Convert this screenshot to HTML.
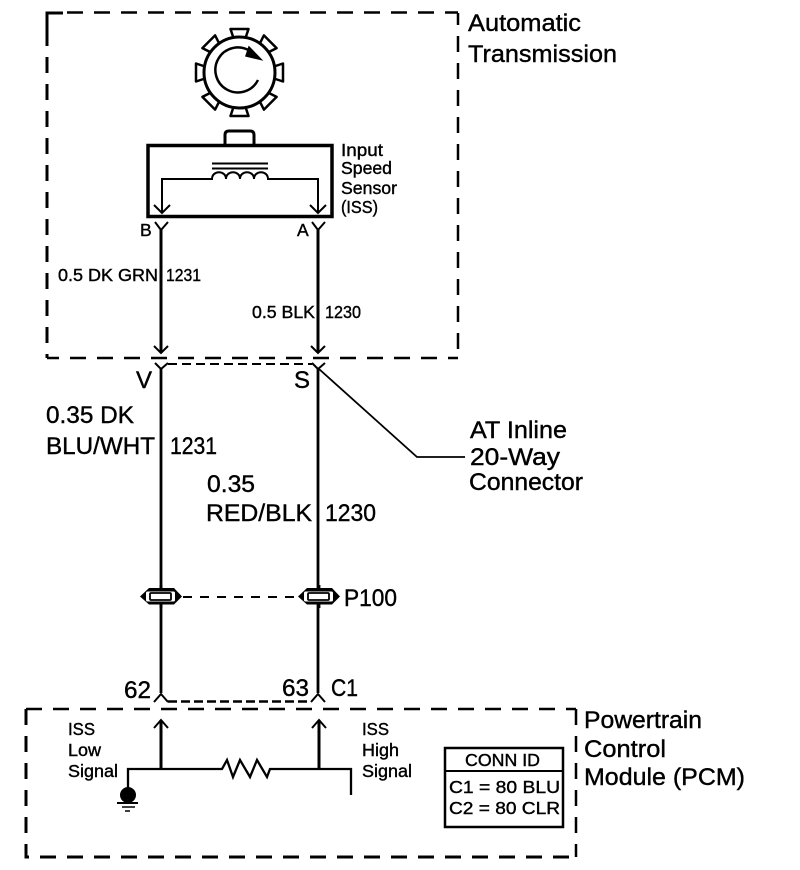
<!DOCTYPE html>
<html><head><meta charset="utf-8"><style>
html,body{margin:0;padding:0;background:#fff;width:800px;height:870px;overflow:hidden}
svg{display:block}
text{font-family:"Liberation Sans",sans-serif;fill:#000;stroke:#000;stroke-width:.4}
.l{font-size:24px}.s{font-size:17.5px}
</style></head><body>
<svg width="800" height="870" viewBox="0 0 800 870" xmlns="http://www.w3.org/2000/svg">
<rect width="800" height="870" fill="#fff"/>
<g fill="none" stroke="#000" stroke-width="2.5">
<!-- dashed module boxes -->
<path d="M47 30V13H63" stroke-width="3"/>
<path d="M67 12.500H458" stroke-dasharray="16 11"/>
<path d="M458 13V358" stroke-dasharray="16 11" stroke-dashoffset="4"/>
<path d="M47 30V358" stroke-dasharray="16 11" stroke-width="3"/>
<path d="M458 358H47" stroke-dasharray="16 11" stroke-dashoffset="6"/>
<path d="M26 709H576" stroke-dasharray="16 11"/>
<path d="M576 709V857" stroke-dasharray="16 11"/>
<path d="M26 709V857H576" stroke-dasharray="16 11" stroke-width="3"/>

<!-- gear -->
<g stroke-width="2.500" fill="#fff" stroke-linejoin="round">
<g id="t"><path d="M233.500 38L230.500 29H248.500L245.500 38"/></g>
<use href="#t" transform="rotate(45 239.500 72.500)"/>
<use href="#t" transform="rotate(90 239.500 72.500)"/>
<use href="#t" transform="rotate(135 239.500 72.500)"/>
<use href="#t" transform="rotate(180 239.500 72.500)"/>
<use href="#t" transform="rotate(225 239.500 72.500)"/>
<use href="#t" transform="rotate(270 239.500 72.500)"/>
<use href="#t" transform="rotate(315 239.500 72.500)"/>
</g>
<circle cx="239.500" cy="72.500" r="35.500" stroke-width="3" fill="#fff"/>
<path d="M258 80A22.500 22.500 0 1 1 250 51" stroke-width="2.500"/>
<path d="M249 47L261 59.500L246 56Z" fill="#000" stroke-width="1.500"/>

<!-- sensor -->
<path d="M225 145V135Q225 131 229 131H250Q254 131 254 135V145" stroke-width="3"/>
<rect x="148" y="145.500" width="184" height="71" stroke-width="3.500"/>
<path d="M212 163.500H268M212 168.500H268" stroke-width="2"/>
<path d="M162 212V179H212C212 170 226 170 226 179C226 170 240 170 240 179C240 170 254 170 254 179C254 170 268 170 268 179H318V212" stroke-width="2"/>
<path d="M154 205L162 213L170 205M310 205L318 213L326 205" stroke-width="2"/>

<!-- wires upper -->
<path d="M161 230V352M318 230V352" stroke-width="3"/>
<path d="M155 222L161 230L168 222M312 222L318 230L325 222" stroke-width="2"/>
<path d="M154 346L161 353L168 346M311 346L318 353L325 346" stroke-width="2"/>

<!-- wires lower -->
<path d="M161 368V693M318 368V693" stroke-width="2.800"/>
<path d="M155 363L161 369L168 363M312 363L318 369L325 363" stroke-width="2"/>
<path d="M168 364H312" stroke-width="2" stroke-dasharray="9 5"/>
<path d="M319 369L417 457H465" stroke-width="1.800"/>

<!-- P100 connectors -->
<path d="M183 597H302" stroke-width="2" stroke-dasharray="9 8"/>
<g id="p"><path d="M149 588H174L182 596.500L174 604.500H149L140 596.500Z" fill="#000" stroke="none"/>
<rect x="146" y="591.500" width="29" height="10" rx="1.500" fill="#fff" stroke="none"/>
<rect x="150" y="593" width="21" height="7" rx="1" fill="#fff" stroke="#000" stroke-width="1.800"/>
<path d="M161 585V590M161 603V608" stroke-width="2.800"/></g>
<use href="#p" transform="translate(158 0)"/>

<!-- PCM pins -->
<path d="M154 702L161 694L168 702M311 702L318 694L325 702" stroke-width="2"/>
<path d="M168 701.500H311" stroke-width="2.500" stroke-dasharray="9 4"/>
<path d="M161 720V768M319 720V768" stroke-width="3"/>
<path d="M154 728L161 720L168 728M312 728L319 720L326 728" stroke-width="2"/>

<!-- PCM circuit -->
<path d="M128 795V769H222L227 760L233 777L240 760L250 777L257 760L267 777L270 769H351V795" stroke-width="2.300"/>
<circle cx="128" cy="795" r="8" fill="#000" stroke="none"/>
<path d="M117 803H138" stroke-width="2"/><path d="M122 807H135" stroke-width="1.500"/><path d="M125 811H130" stroke-width="1.500"/>

<!-- CONN ID box -->
<rect x="445" y="748" width="118" height="79" stroke-width="2.500"/>
<path d="M445 771H563" stroke-width="2"/>
</g>

<g lengthAdjust="spacingAndGlyphs">
<text lengthAdjust="spacingAndGlyphs" class="l" x="468" y="31" textLength="113">Automatic</text>
<text lengthAdjust="spacingAndGlyphs" class="l" x="468" y="62" textLength="149">Transmission</text>
<text lengthAdjust="spacingAndGlyphs" class="s" x="341" y="156" textLength="42">Input</text>
<text lengthAdjust="spacingAndGlyphs" class="s" x="341" y="174" textLength="51">Speed</text>
<text lengthAdjust="spacingAndGlyphs" class="s" x="341" y="194" textLength="56">Sensor</text>
<text lengthAdjust="spacingAndGlyphs" class="s" x="341" y="213" textLength="37">(ISS)</text>
<text class="s" x="140" y="236">B</text>
<text class="s" x="297" y="236">A</text>
<text lengthAdjust="spacingAndGlyphs" class="s" x="58" y="281" textLength="100">0.5 DK GRN</text>
<text lengthAdjust="spacingAndGlyphs" class="s" x="166" y="281" textLength="35">1231</text>
<text lengthAdjust="spacingAndGlyphs" class="s" x="252" y="318" textLength="63">0.5 BLK</text>
<text lengthAdjust="spacingAndGlyphs" class="s" x="325" y="318" textLength="36">1230</text>
<text class="l" x="136" y="388">V</text>
<text class="l" x="294" y="388">S</text>
<text lengthAdjust="spacingAndGlyphs" class="l" x="46" y="423" textLength="88">0.35 DK</text>
<text lengthAdjust="spacingAndGlyphs" class="l" x="46" y="454" textLength="109">BLU/WHT</text>
<text lengthAdjust="spacingAndGlyphs" class="l" x="170" y="454" textLength="47">1231</text>
<text lengthAdjust="spacingAndGlyphs" class="l" x="207" y="492" textLength="48">0.35</text>
<text lengthAdjust="spacingAndGlyphs" class="l" x="206" y="521" textLength="106">RED/BLK</text>
<text lengthAdjust="spacingAndGlyphs" class="l" x="325" y="521" textLength="51">1230</text>
<text lengthAdjust="spacingAndGlyphs" class="l" x="470" y="438" textLength="97">AT Inline</text>
<text lengthAdjust="spacingAndGlyphs" class="l" x="470" y="465" textLength="90">20-Way</text>
<text lengthAdjust="spacingAndGlyphs" class="l" x="469" y="490" textLength="114">Connector</text>
<text lengthAdjust="spacingAndGlyphs" class="l" x="344" y="606" textLength="53">P100</text>
<text lengthAdjust="spacingAndGlyphs" class="l" x="124" y="698" textLength="27">62</text>
<text lengthAdjust="spacingAndGlyphs" class="l" x="282" y="696" textLength="27">63</text>
<text lengthAdjust="spacingAndGlyphs" class="l" x="331" y="696" textLength="27">C1</text>
<text lengthAdjust="spacingAndGlyphs" class="s" x="68" y="735" textLength="27">ISS</text>
<text lengthAdjust="spacingAndGlyphs" class="s" x="68" y="756" textLength="33">Low</text>
<text lengthAdjust="spacingAndGlyphs" class="s" x="68" y="777" textLength="50">Signal</text>
<text lengthAdjust="spacingAndGlyphs" class="s" x="362" y="735" textLength="27">ISS</text>
<text lengthAdjust="spacingAndGlyphs" class="s" x="362" y="756" textLength="37">High</text>
<text lengthAdjust="spacingAndGlyphs" class="s" x="362" y="777" textLength="50">Signal</text>
<text lengthAdjust="spacingAndGlyphs" class="l" x="584" y="728" textLength="118">Powertrain</text>
<text lengthAdjust="spacingAndGlyphs" class="l" x="584" y="757" textLength="82">Control</text>
<text lengthAdjust="spacingAndGlyphs" class="l" x="584" y="785" textLength="161">Module (PCM)</text>
<text lengthAdjust="spacingAndGlyphs" class="s" x="465" y="766" textLength="75">CONN ID</text>
<text lengthAdjust="spacingAndGlyphs" class="s" x="449" y="793" textLength="111">C1 = 80 BLU</text>
<text lengthAdjust="spacingAndGlyphs" class="s" x="449" y="814" textLength="111">C2 = 80 CLR</text>
</g>
</svg>
</body></html>
